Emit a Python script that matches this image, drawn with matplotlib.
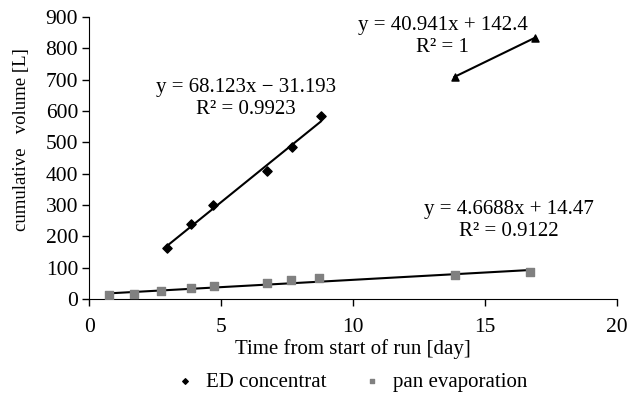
import matplotlib
matplotlib.use('Agg')
import numpy as np
import matplotlib.pyplot as plt

plt.rcParams['font.family'] = ['Liberation Serif', 'DejaVu Serif']

# ED concentrat
ed_x = [2.95, 3.85, 4.69, 6.74, 7.67, 8.77]
ed_y = [164, 239, 301, 408, 484, 583]

# pan evaporation
pan_x = [0.73, 1.7, 2.7, 3.84, 4.72, 6.72, 7.65, 8.7, 13.87, 16.7]
pan_y = [12, 17, 24, 34, 41, 51, 61, 68, 76, 86]

# third series (triangles, not in legend)
tri_x = [13.84, 16.9]
tri_y = [709, 834]

# trendline coefficients (slope, intercept) as printed
ed_fit = (68.123, -31.193)
pan_fit = (4.6688, 14.47)
tri_fit = (40.941, 142.4)

fig = plt.figure(figsize=(6.29, 3.96), dpi=100)
ax = fig.add_axes([0.142, 0.245, 0.839, 0.712])

# trendlines over each series' range
for xs, (m, b) in [(ed_x, ed_fit), (pan_x, pan_fit), (tri_x, tri_fit)]:
    xx = np.array([min(xs), max(xs)])
    ax.plot(xx, m * xx + b, color='black', lw=1.5, zorder=2)

ax.scatter(ed_x, ed_y, marker='D', s=22, color='black', zorder=3, label='ED concentrat')
ax.scatter(pan_x, pan_y, marker='s', s=28, color='#808080', zorder=3, label='pan evaporation')
ax.scatter(tri_x, tri_y, marker='^', s=26, color='black', zorder=3)

# equations
fs = 15
ax.text(5.94, 640, 'y = 68.123x \u2212 31.193\nR\u00b2 = 0.9923', ha='center', va='center',
        fontsize=fs, linespacing=1.2)
ax.text(13.4, 838, 'y = 40.941x + 142.4\nR\u00b2 = 1', ha='center', va='center',
        fontsize=fs, linespacing=1.2)
ax.text(15.9, 250, 'y = 4.6688x + 14.47\nR\u00b2 = 0.9122', ha='center', va='center',
        fontsize=fs, linespacing=1.2)

ax.set_xlim(0, 20)
ax.set_ylim(0, 900)
ax.set_xticks([0, 5, 10, 15, 20])
ax.set_yticks(range(0, 901, 100))
ax.spines['top'].set_visible(False)
ax.spines['right'].set_visible(False)
ax.tick_params(direction='out', length=5, width=1, labelsize=15.5)
ax.tick_params(axis='x', pad=8.5)
ax.tick_params(axis='y', pad=3)
ax.set_xlabel('Time from start of run [day]', fontsize=fs, labelpad=2)
ax.set_ylabel('cumulative   volume [L]', fontsize=13.5)
ax.yaxis.set_label_coords(-0.113, 0.564)

fig.legend(loc='center', bbox_to_anchor=(0.55, 0.035), ncol=2, frameon=False,
           fontsize=fs, handletextpad=0.0, columnspacing=1.2, scatterpoints=1,
           markerscale=0.6)

fig.savefig('out.png', dpi=100)
